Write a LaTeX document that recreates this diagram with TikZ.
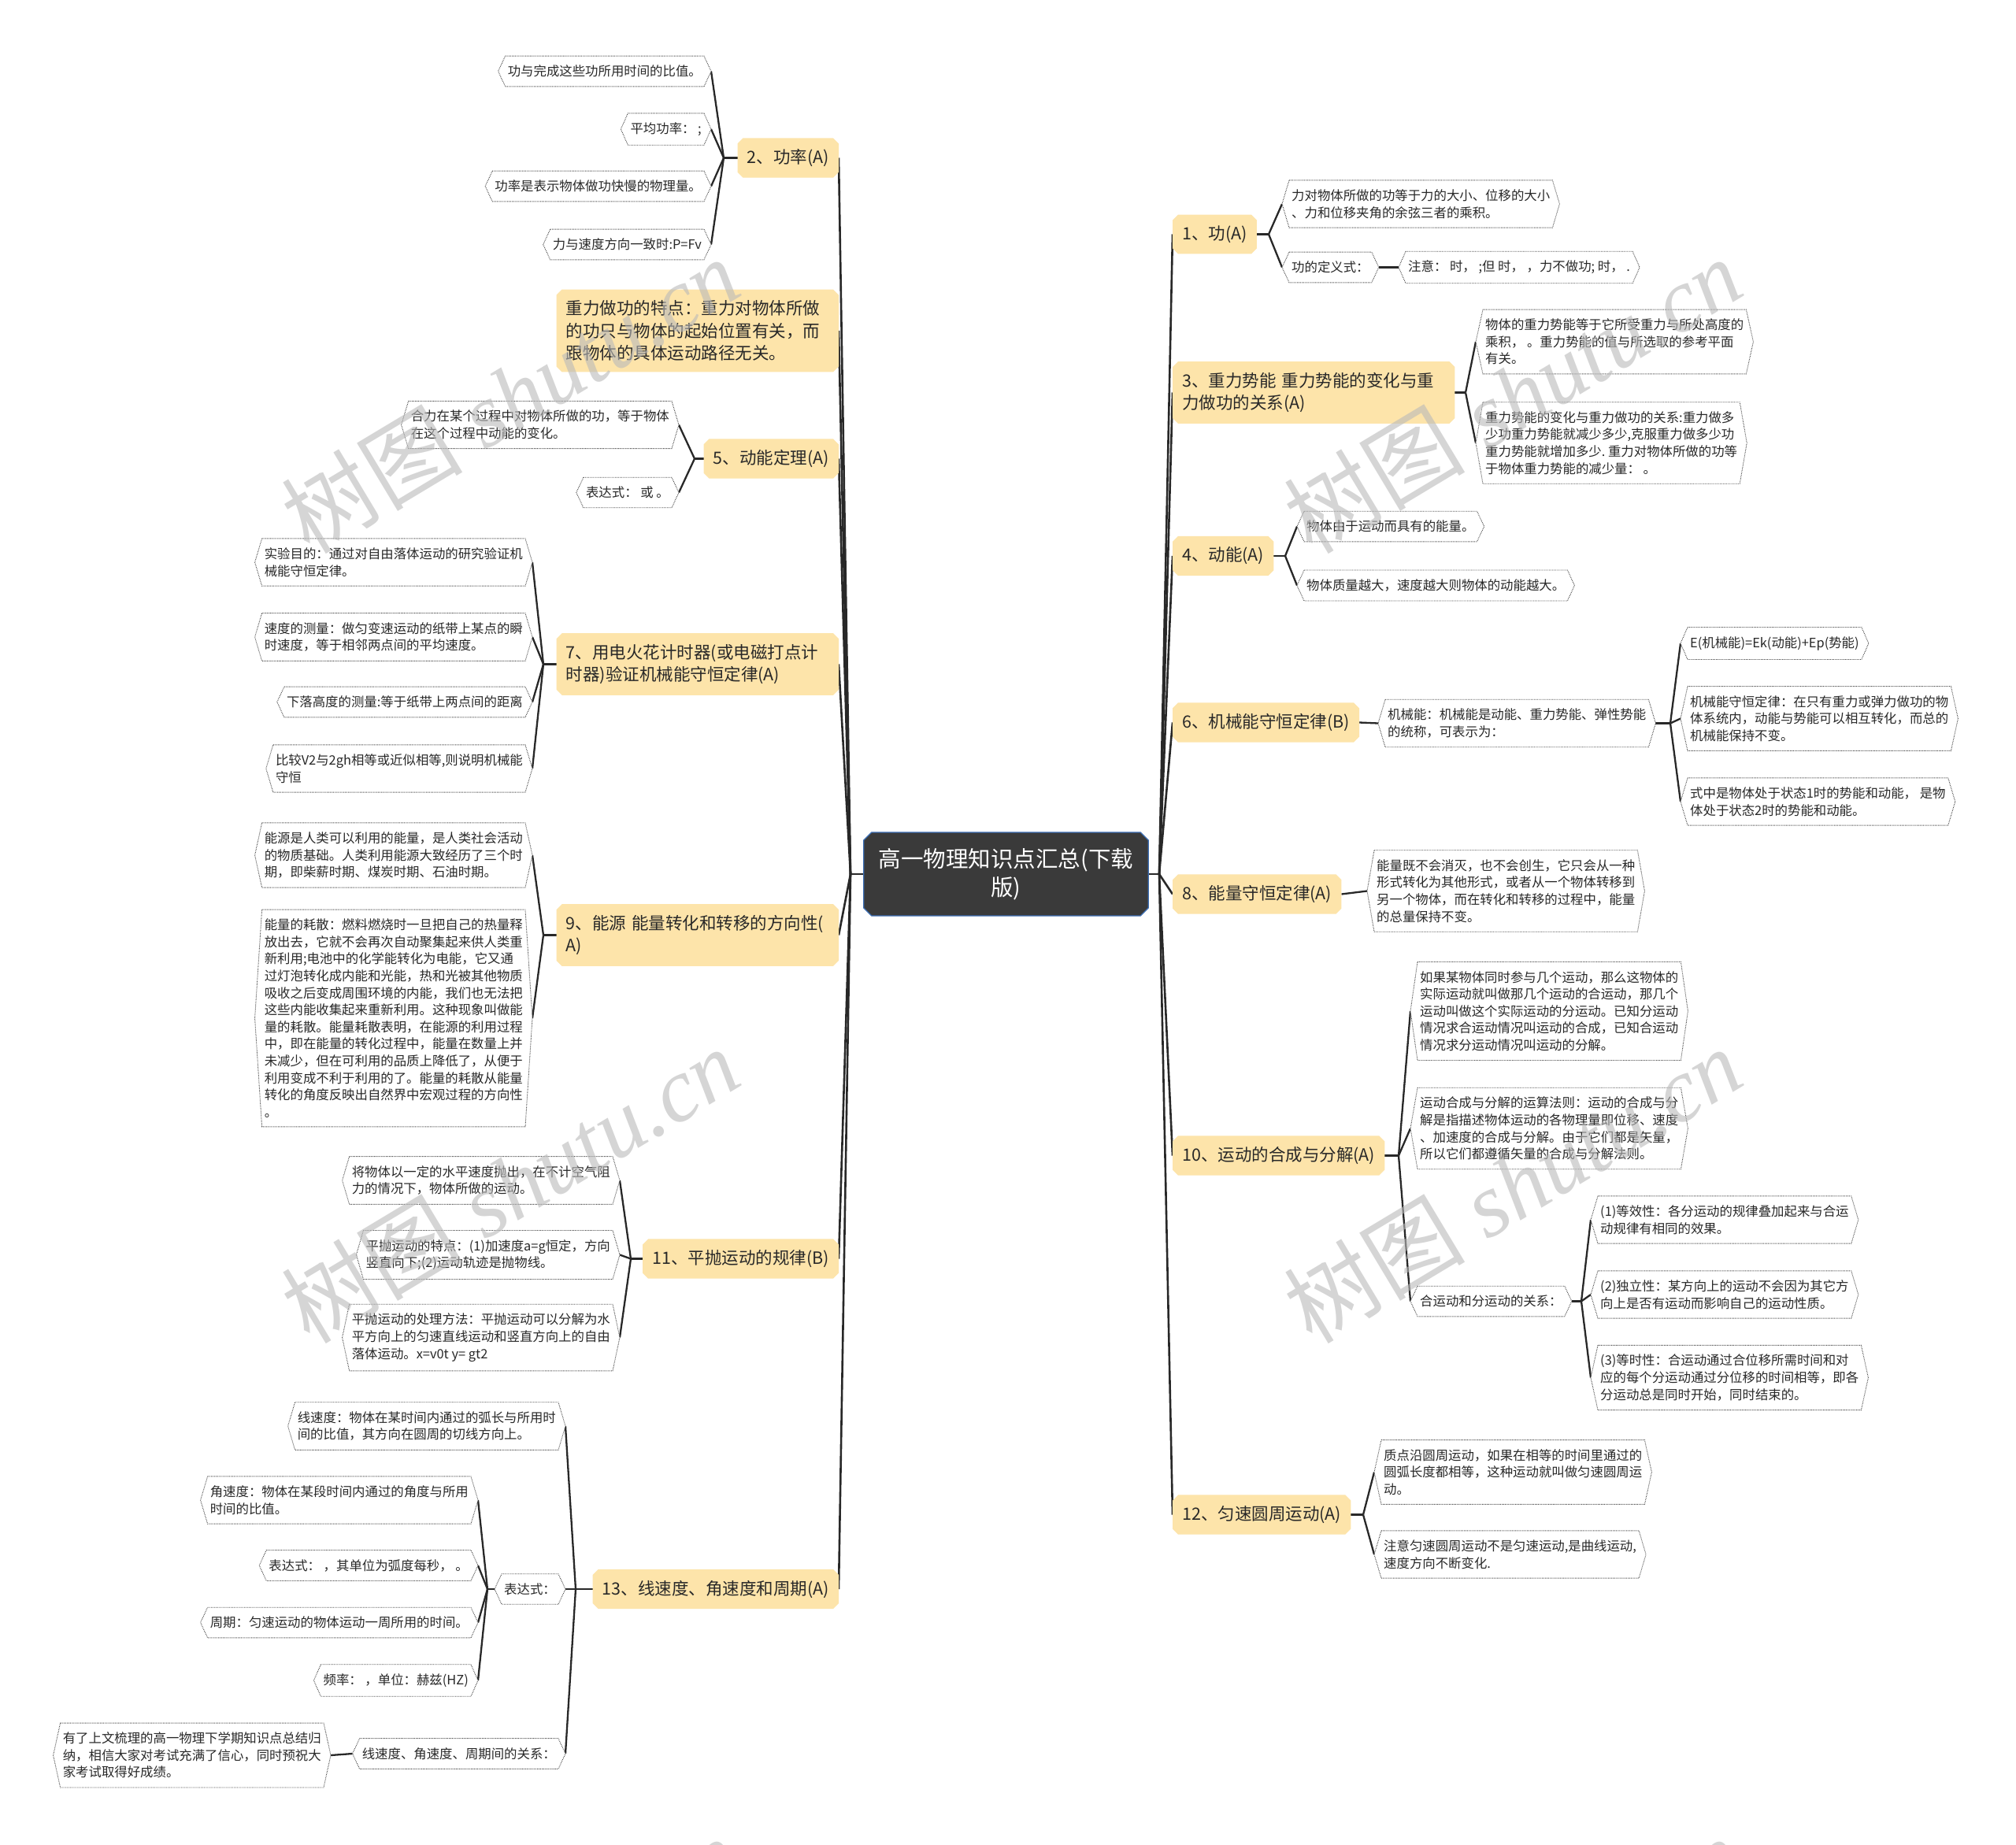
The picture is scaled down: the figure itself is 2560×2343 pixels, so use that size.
\documentclass[tikz,border=0pt]{standalone}
\usepackage{fontspec}
\setmainfont{Noto Sans CJK SC}
\newfontfamily\wmserif{Liberation Serif}
\usetikzlibrary{calc}
\pgfdeclarelayer{bg}
\pgfdeclarelayer{fg}
\pgfsetlayers{bg,main,fg}
\definecolor{branchfill}{RGB}{253,228,170}
\definecolor{rootfill}{RGB}{58,58,58}
\definecolor{rootline}{RGB}{60,110,180}
\definecolor{linec}{RGB}{40,40,40}
\definecolor{textc}{RGB}{40,40,40}
\definecolor{leafline}{RGB}{70,70,70}
\definecolor{wmgray}{RGB}{185,185,185}
\begin{document}
\begin{tikzpicture}[x=1pt,y=-1pt,
  leaf/.style={font=\fontsize{16.4}{21.6}\selectfont, inner xsep=3pt, inner ysep=11.5pt, align=left, text=textc},
  leafL/.style={leaf, anchor=east},
  leafR/.style={leaf, anchor=west},
  branch/.style={font=\fontsize{21.5}{28.5}\selectfont, inner xsep=12pt, inner ysep=13.7pt, text=textc},
  branchM/.style={branch, text width=334pt, align=left},
  brL/.style={anchor=east},
  brR/.style={anchor=west},
  rootnode/.style={font=\fontsize{28.5}{36}\selectfont, text=white, text width=333pt, align=center, inner xsep=14pt, inner ysep=20pt},
  trunk/.style={draw=linec, line width=2.6pt},
  conn/.style={draw=linec, line width=2.3pt},
  leafshape/.style={fill=white, draw=leafline, line width=0.9pt, dash pattern=on 1pt off 1.1pt},
  wm/.style={text=wmgray, opacity=0.6, font=\fontsize{115}{115}\selectfont, rotate=31}
]
\useasboundingbox (0,0) rectangle (2560,2343);

% root
\node[rootnode] (root) at (1277.5,1110) {高一物理知识点汇总(下载\\版)};
\coordinate (JL) at (1080,1110);
\coordinate (JR) at (1472,1110);

% left branches
\node[branch,brL] (b2) at (1065,200.5) {2、功率(A)};
\node[branchM,brL] (bg) at (1065,420) {重力做功的特点：重力对物体所做\\的功只与物体的起始位置有关，而\\跟物体的具体运动路径无关。};
\node[branch,brL] (b5) at (1065,582.5) {5、动能定理(A)};
\node[branchM,brL] (b7) at (1065,843.5) {7、用电火花计时器(或电磁打点计\\时器)验证机械能守恒定律(A)};
\node[branchM,brL] (b9) at (1065,1187.5) {9、能源~能量转化和转移的方向性(\\A)};
\node[branch,brL] (b11) at (1065,1598.5) {11、平抛运动的规律(B)};
\node[branch,brL] (b13) at (1065,2018) {13、线速度、角速度和周期(A)};

% right branches
\node[branch,brR] (b1) at (1489,297.5) {1、功(A)};
\node[branchM,brR] (b3) at (1489,498.5) {3、重力势能~重力势能的变化与重\\力做功的关系(A)};
\node[branch,brR] (b4) at (1489,706) {4、动能(A)};
\node[branch,brR] (b6) at (1489,917.5) {6、机械能守恒定律(B)};
\node[branch,brR] (b8) at (1489,1135.5) {8、能量守恒定律(A)};
\node[branch,brR] (b10) at (1489,1467.5) {10、运动的合成与分解(A)};
\node[branch,brR] (b12) at (1489,1923.5) {12、匀速圆周运动(A)};

% left leaves
\node[leafL] (l2a) at (894,90.5) {功与完成这些功所用时间的比值。};
\node[leafL] (l2b) at (894,164) {平均功率：~;};
\node[leafL] (l2c) at (894,236.5) {功率是表示物体做功快慢的物理量。};
\node[leafL] (l2d) at (894,310.5) {力与速度方向一致时:P=Fv};
\coordinate (j2) at (919,200.5);

\node[leafL] (l5a) at (853,539.5) {合力在某个过程中对物体所做的功，等于物体\\在这个过程中动能的变化。};
\node[leafL] (l5b) at (853,625.5) {表达式：~或~。};
\coordinate (j5) at (882,582.5);

\node[leafL] (l7a) at (667,714) {实验目的：通过对自由落体运动的研究验证机\\械能守恒定律。};
\node[leafL] (l7b) at (667,809) {速度的测量：做匀变速运动的纸带上某点的瞬\\时速度，等于相邻两点间的平均速度。};
\node[leafL] (l7c) at (667,891.5) {下落高度的测量:等于纸带上两点间的距离};
\node[leafL] (l7d) at (667,976) {比较V2与2gh相等或近似相等,则说明机械能\\守恒};
\coordinate (j7) at (690,843.5);

\node[leafL] (l9a) at (667,1086) {能源是人类可以利用的能量，是人类社会活动\\的物质基础。人类利用能源大致经历了三个时\\期，即柴薪时期、煤炭时期、石油时期。};
\node[leafL] (l9b) at (667,1293) {能量的耗散：燃料燃烧时一旦把自己的热量释\\放出去，它就不会再次自动聚集起来供人类重\\新利用;电池中的化学能转化为电能，它又通\\过灯泡转化成内能和光能，热和光被其他物质\\吸收之后变成周围环境的内能，我们也无法把\\这些内能收集起来重新利用。这种现象叫做能\\量的耗散。能量耗散表明，在能源的利用过程\\中，即在能量的转化过程中，能量在数量上并\\未减少，但在可利用的品质上降低了，从便于\\利用变成不利于利用的了。能量的耗散从能量\\转化的角度反映出自然界中宏观过程的方向性\\。};
\coordinate (j9) at (690,1187.5);

\node[leafL] (l11a) at (778,1499) {将物体以一定的水平速度抛出，在不计空气阻\\力的情况下，物体所做的运动。};
\node[leafL] (l11b) at (778,1593.5) {平抛运动的特点：(1)加速度a=g恒定，方向\\竖直向下;(2)运动轨迹是抛物线。};
\node[leafL] (l11c) at (778,1698.5) {平抛运动的处理方法：平抛运动可以分解为水\\平方向上的匀速直线运动和竖直方向上的自由\\落体运动。x=v0t y= gt2};
\coordinate (j11) at (801,1598.5);

\node[leafL] (l13a) at (709,1811) {线速度：物体在某时间内通过的弧长与所用时\\间的比值，其方向在圆周的切线方向上。};
\node[leafL] (l13b) at (709,2018) {表达式：};
\node[leafL] (l13c) at (709,2227) {线速度、角速度、周期间的关系：};
\coordinate (j13) at (731,2018);

\node[leafL] (m1) at (598,1905) {角速度：物体在某段时间内通过的角度与所用\\时间的比值。};
\node[leafL] (m2) at (598,1988) {表达式：~，其单位为弧度每秒，~。};
\node[leafL] (m3) at (598,2060.5) {周期：匀速运动的物体运动一周所用的时间。};
\node[leafL] (m4) at (598,2134) {频率：~，单位：赫兹(HZ)};
\coordinate (jm) at (619,2018);

\node[leafL] (m5) at (411,2229) {有了上文梳理的高一物理下学期知识点总结归\\纳，相信大家对考试充满了信心，同时预祝大\\家考试取得好成绩。};

% right leaves
\node[leafR] (l1a) at (1637,259) {力对物体所做的功等于力的大小、位移的大小\\、力和位移夹角的余弦三者的乘积。};
\node[leafR] (l1b) at (1637,339.5) {功的定义式：};
\coordinate (j1) at (1611,297.5);
\node[leafR] (n1) at (1785,339.5) {注意：~时，~;但~时，~，力不做功;~时，~.};

\node[leafR] (l3a) at (1883,434) {物体的重力势能等于它所受重力与所处高度的\\乘积，~。重力势能的值与所选取的参考平面\\有关。};
\node[leafR] (l3b) at (1883,562.5) {重力势能的变化与重力做功的关系:重力做多\\少功重力势能就减少多少,克服重力做多少功\\重力势能就增加多少.~重力对物体所做的功等\\于物体重力势能的减少量：~。};
\coordinate (j3) at (1861,498.5);

\node[leafR] (l4a) at (1656,668.5) {物体由于运动而具有的能量。};
\node[leafR] (l4b) at (1656,743.5) {物体质量越大，速度越大则物体的动能越大。};
\coordinate (j4) at (1632,706);

\node[leafR] (l6a) at (1759,918.5) {机械能：机械能是动能、重力势能、弹性势能\\的统称，可表示为：};
\node[leafR] (n6a) at (2143,817) {E(机械能)=Ek(动能)+Ep(势能)};
\node[leafR] (n6b) at (2143,912.5) {机械能守恒定律：在只有重力或弹力做功的物\\体系统内，动能与势能可以相互转化，而总的\\机械能保持不变。};
\node[leafR] (n6c) at (2143,1018) {式中是物体处于状态1时的势能和动能，~是物\\体处于状态2时的势能和动能。};
\coordinate (j6) at (2121,918.5);

\node[leafR] (l8) at (1745,1131.5) {能量既不会消灭，也不会创生，它只会从一种\\形式转化为其他形式，或者从一个物体转移到\\另一个物体，而在转化和转移的过程中，能量\\的总量保持不变。};

\node[leafR] (l10a) at (1800,1284) {如果某物体同时参与几个运动，那么这物体的\\实际运动就叫做那几个运动的合运动，那几个\\运动叫做这个实际运动的分运动。已知分运动\\情况求合运动情况叫运动的合成，已知合运动\\情况求分运动情况叫运动的分解。};
\node[leafR] (l10b) at (1800,1433) {运动合成与分解的运算法则：运动的合成与分\\解是指描述物体运动的各物理量即位移、速度\\、加速度的合成与分解。由于它们都是矢量，\\所以它们都遵循矢量的合成与分解法则。};
\node[leafR] (l10c) at (1800,1652.5) {合运动和分运动的关系：};
\coordinate (j10) at (1776,1467.5);
\node[leafR] (n10a) at (2029,1549) {(1)等效性：各分运动的规律叠加起来与合运\\动规律有相同的效果。};
\node[leafR] (n10b) at (2029,1644) {(2)独立性：某方向上的运动不会因为其它方\\向上是否有运动而影响自己的运动性质。};
\node[leafR] (n10c) at (2029,1749.5) {(3)等时性：合运动通过合位移所需时间和对\\应的每个分运动通过分位移的时间相等，即各\\分运动总是同时开始，同时结束的。};
\coordinate (j10c) at (2008,1652.5);

\node[leafR] (l12a) at (1754,1869.5) {质点沿圆周运动，如果在相等的时间里通过的\\圆弧长度都相等，这种运动就叫做匀速圆周运\\动。};
\node[leafR] (l12b) at (1754,1974) {注意匀速圆周运动不是匀速运动,是曲线运动,\\速度方向不断变化.};
\coordinate (j12) at (1731,1923.5);

\begin{pgfonlayer}{bg}
\fill[white] (0,0) rectangle (2560,2343);
% trunk
\draw[trunk] (root.west) -- (JL);
\draw[trunk] (root.east) -- (JR);
\foreach \bb in {b2,bg,b5,b7,b9,b11,b13} \draw[trunk] (JL) -- (\bb.east);
\foreach \bb in {b1,b3,b4,b6,b8,b10,b12} \draw[trunk] (JR) -- (\bb.west);
% left fans
\draw[conn] (b2.west) -- (j2);
\foreach \nn in {l2a,l2b,l2c,l2d} \draw[conn] (j2) -- ([xshift=9pt]\nn.east);
\draw[conn] (b5.west) -- (j5);
\foreach \nn in {l5a,l5b} \draw[conn] (j5) -- ([xshift=9pt]\nn.east);
\draw[conn] (b7.west) -- (j7);
\foreach \nn in {l7a,l7b,l7c,l7d} \draw[conn] (j7) -- ([xshift=9pt]\nn.east);
\draw[conn] (b9.west) -- (j9);
\foreach \nn in {l9a,l9b} \draw[conn] (j9) -- ([xshift=9pt]\nn.east);
\draw[conn] (b11.west) -- (j11);
\foreach \nn in {l11a,l11b,l11c} \draw[conn] (j11) -- ([xshift=9pt]\nn.east);
\draw[conn] (b13.west) -- (j13);
\foreach \nn in {l13a,l13b,l13c} \draw[conn] (j13) -- ([xshift=9pt]\nn.east);
\draw[conn] ([xshift=-9pt]l13b.west) -- (jm);
\foreach \nn in {m1,m2,m3,m4} \draw[conn] (jm) -- ([xshift=9pt]\nn.east);
\draw[conn] ([xshift=-9pt]l13c.west) -- ([xshift=9pt]m5.east);
% right fans
\draw[conn] (b1.east) -- (j1);
\foreach \nn in {l1a,l1b} \draw[conn] (j1) -- ([xshift=-9pt]\nn.west);
\draw[conn] ([xshift=9pt]l1b.east) -- ([xshift=-9pt]n1.west);
\draw[conn] (b3.east) -- (j3);
\foreach \nn in {l3a,l3b} \draw[conn] (j3) -- ([xshift=-9pt]\nn.west);
\draw[conn] (b4.east) -- (j4);
\foreach \nn in {l4a,l4b} \draw[conn] (j4) -- ([xshift=-9pt]\nn.west);
\draw[conn] (b6.east) -- ([xshift=-9pt]l6a.west);
\draw[conn] ([xshift=9pt]l6a.east) -- (j6);
\foreach \nn in {n6a,n6b,n6c} \draw[conn] (j6) -- ([xshift=-9pt]\nn.west);
\draw[conn] (b8.east) -- ([xshift=-9pt]l8.west);
\draw[conn] (b10.east) -- (j10);
\foreach \nn in {l10a,l10b,l10c} \draw[conn] (j10) -- ([xshift=-9pt]\nn.west);
\draw[conn] ([xshift=9pt]l10c.east) -- (j10c);
\foreach \nn in {n10a,n10b,n10c} \draw[conn] (j10c) -- ([xshift=-9pt]\nn.west);
\draw[conn] (b12.east) -- (j12);
\foreach \nn in {l12a,l12b} \draw[conn] (j12) -- ([xshift=-9pt]\nn.west);
% leaf shapes
\foreach \nn in {l2a,l2b,l2c,l2d,l5a,l5b,l7a,l7b,l7c,l7d,l9a,l9b,l11a,l11b,l11c,l13a,l13b,l13c,m1,m2,m3,m4,m5,l1a,l1b,n1,l3a,l3b,l4a,l4b,l6a,n6a,n6b,n6c,l8,l10a,l10b,l10c,n10a,n10b,n10c,l12a,l12b}
  \path[leafshape] (\nn.north west) -- (\nn.north east) -- ([xshift=9pt]\nn.east) -- (\nn.south east) -- (\nn.south west) -- ([xshift=-9pt]\nn.west) -- cycle;
% branch shapes
\foreach \nn in {b1,b2,b3,b4,b5,b6,b7,b8,b9,b10,b11,b12,b13,bg}
  \fill[branchfill] ([xshift=7pt]\nn.north west) -- ([xshift=-7pt]\nn.north east) -- ([yshift=-7pt]\nn.north east) -- ([yshift=7pt]\nn.south east) -- ([xshift=-7pt]\nn.south east) -- ([xshift=7pt]\nn.south west) -- ([yshift=7pt]\nn.south west) -- ([yshift=-7pt]\nn.north west) -- cycle;
% root shape
\path[fill=rootfill, draw=rootline, line width=1.2pt] ([xshift=10pt]root.north west) -- ([xshift=-10pt]root.north east) -- ([yshift=-10pt]root.north east) -- ([yshift=10pt]root.south east) -- ([xshift=-10pt]root.south east) -- ([xshift=10pt]root.south west) -- ([yshift=10pt]root.south west) -- ([yshift=-10pt]root.north west) -- cycle;
\end{pgfonlayer}

\begin{pgfonlayer}{fg}
\begin{scope}
\clip (0,0) rectangle (2560,2343);
\foreach \wx/\wy [count=\wi] in {648/502, 1921/502, 648/1505, 1921/1505, 648/2508, 1921/2508}
  \node[wm] (wm\wi) at (\wx,\wy) {树图\hspace{0.25em}{\wmserif\itshape shutu.cn}};
\end{scope}
\end{pgfonlayer}
\end{tikzpicture}
\end{document}
